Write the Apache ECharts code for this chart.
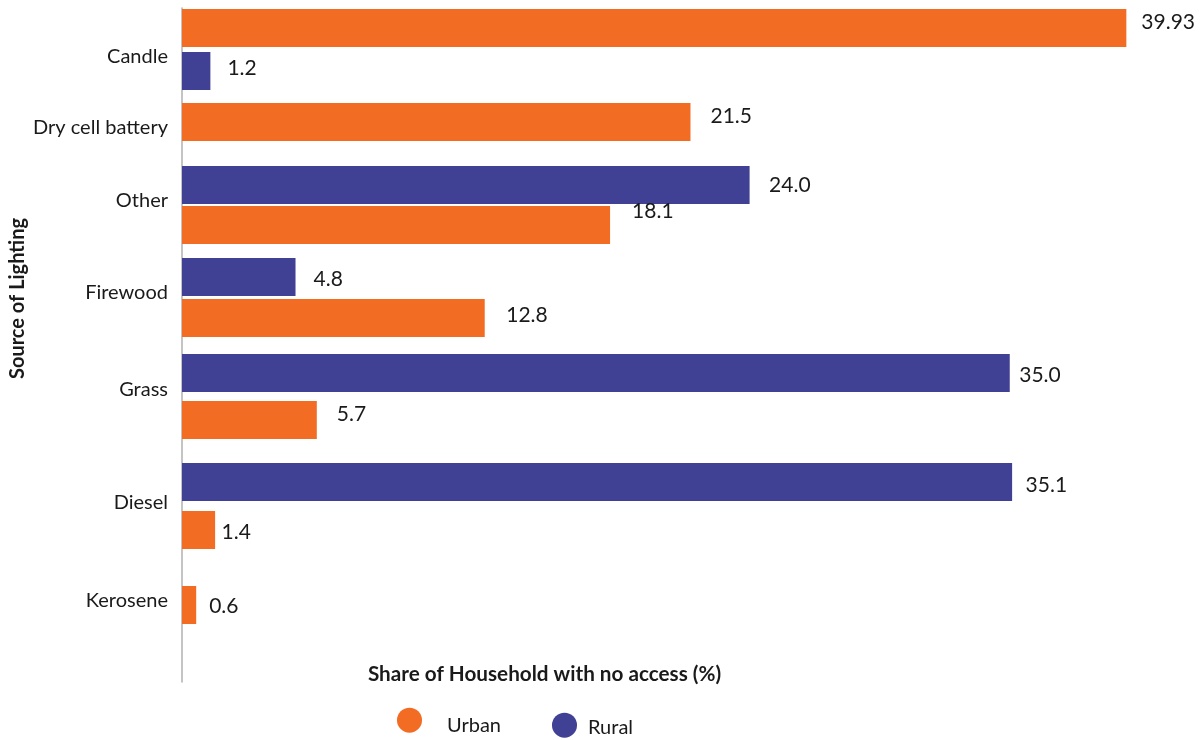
<!DOCTYPE html>
<html>
<head>
<meta charset="utf-8">
<script src="https://cdn.jsdelivr.net/npm/echarts@6/dist/echarts.min.js"></script>
<style>
  html, body { margin: 0; padding: 0; background: #ffffff; }
  #chart { width: 1201px; height: 740px; }
</style>
</head>
<body>
<div id="chart"></div>
<script>
// Share of households with no access, by source of lighting (%)
const groups = ['Candle', 'Dry cell battery', 'Other', 'Firewood', 'Grass', 'Diesel', 'Kerosene'];
const urban = [39.93, 21.5, 18.1, 12.8, 5.7, 1.4, 0.6];
const rural = [1.2, null, 24.0, 4.8, 35.0, 35.1, null];
// which series sits on the upper row of each group
const topSeries = ['Urban', 'Urban', 'Rural', 'Rural', 'Rural', 'Rural', 'Urban'];
const seriesNames = ['Urban', 'Rural'];

// ---- layout & style ----
const COLORS = { Urban: '#F36C24', Rural: '#404194' };
const FONT = 'Lato';
const TEXT = '#1a1a1a';
const PLOT_LEFT = 182, PLOT_RIGHT = 73;
// vertical band [top, height] for each group's rows
const groupBoxes = [[6.5, 86], [102, 40], [165, 80], [256.5, 82], [349.5, 94], [458, 96], [585, 40]];
// fine vertical shift of each group name
const groupNameShift = [7, 5.5, -4.5, -5, -7, -3, -4];
// value label placement: [distance from bar end, vertical offset]
const labelPlace = {
  'Candle|Urban': [15, -6], 'Candle|Rural': [17, -3],
  'Dry cell battery|Urban': [20, -6],
  'Other|Rural': [19.5, 0], 'Other|Urban': [22, -14],
  'Firewood|Rural': [18, 2], 'Firewood|Urban': [21.5, -3],
  'Grass|Rural': [9.5, 2], 'Grass|Urban': [20, -6],
  'Diesel|Rural': [13.5, 3], 'Diesel|Urban': [6.5, 2],
  'Kerosene|Urban': [13, 1]
};

const valueOf = (s, i) => (s === 'Urban' ? urban[i] : rural[i]);
const fmt = v => (Math.round(v * 100) % 10 ? v.toFixed(2) : v.toFixed(1));
// vertical padding that moves a centred rich-text token by `shift` px
const shiftPad = (shift, left) => (shift > 0 ? [2 * shift, 0, 0, left || 0] : [0, 0, -2 * shift, left || 0]);

function rowsOf(i) {
  const present = seriesNames.filter(s => valueOf(s, i) != null);
  if (present.length < 2) return present;
  return [topSeries[i], present.find(s => s !== topSeries[i])];
}

const grid = [{ left: PLOT_LEFT, right: PLOT_RIGHT, top: 8, height: 674 }];
const xAxis = [{ gridIndex: 0, type: 'value', min: 0, max: 40, show: false }];
const yAxis = [{
  gridIndex: 0, type: 'value', min: 0, max: 1,
  axisLine: { show: true, lineStyle: { color: '#b0b0b0', width: 1.5 } },
  axisTick: { show: false }, axisLabel: { show: false }, splitLine: { show: false }
}];
const series = [];

groups.forEach((g, i) => {
  const gi = i + 1;
  const rows = rowsOf(i);
  grid.push({ left: PLOT_LEFT, right: PLOT_RIGHT, top: groupBoxes[i][0], height: groupBoxes[i][1] });
  xAxis.push({ gridIndex: gi, type: 'value', min: 0, max: 40, show: false });
  yAxis.push({
    gridIndex: gi, type: 'category', inverse: true, data: rows,
    axisLine: { show: false }, axisTick: { show: false }, axisLabel: { show: false },
    splitLine: { show: false },
    name: '{n|' + g + '}', nameLocation: 'middle', nameRotate: 0, nameGap: 14,
    nameTextStyle: {
      align: 'right', verticalAlign: 'middle',
      rich: {
        n: { fontFamily: FONT, fontSize: 20, color: TEXT, padding: shiftPad(groupNameShift[i]) }
      }
    }
  });
  seriesNames.forEach(s => {
    if (valueOf(s, i) == null) return;
    const place = labelPlace[g + '|' + s] || [16, 0];
    series.push({
      type: 'bar', name: s, xAxisIndex: gi, yAxisIndex: gi,
      stack: 'group' + i, barWidth: 38,
      itemStyle: { color: COLORS[s] },
      data: rows.map(r => (r === s ? valueOf(s, i) : '-')),
      label: {
        show: true, position: 'right', distance: place[0], offset: [0, place[1]],
        fontFamily: FONT, fontSize: 21, color: TEXT,
        formatter: p => fmt(p.value)
      }
    });
  });
});

const legendBase = {
  orient: 'horizontal', icon: 'circle', itemWidth: 25, itemHeight: 25,
  selectedMode: false, padding: 0, formatter: '{t|{name}}'
};

const option = {
  animation: false,
  backgroundColor: '#ffffff',
  grid, xAxis, yAxis, series,
  legend: [
    Object.assign({}, legendBase, {
      data: ['Urban'], left: 397, top: 707.7,
      textStyle: { rich: { t: { fontFamily: FONT, fontSize: 20, color: TEXT, padding: shiftPad(5, 20) } } }
    }),
    Object.assign({}, legendBase, {
      data: ['Rural'], left: 552, top: 712.7,
      textStyle: { rich: { t: { fontFamily: FONT, fontSize: 20, color: TEXT, padding: shiftPad(2.5, 6) } } }
    })
  ],
  graphic: [
    {
      type: 'text', x: 544.5, y: 674.5,
      style: {
        text: 'Share of Household with no access (%)',
        font: 'bold 20.7px ' + FONT, fill: TEXT, align: 'center', verticalAlign: 'middle'
      }
    },
    {
      type: 'text', x: 18, y: 298.5, rotation: Math.PI / 2,
      style: {
        text: 'Source of Lighting',
        font: 'bold 20px ' + FONT, fill: TEXT, align: 'center', verticalAlign: 'middle'
      }
    }
  ]
};

const chart = echarts.init(document.getElementById('chart'), null, { renderer: 'canvas' });
chart.setOption(option);
</script>
</body>
</html>
